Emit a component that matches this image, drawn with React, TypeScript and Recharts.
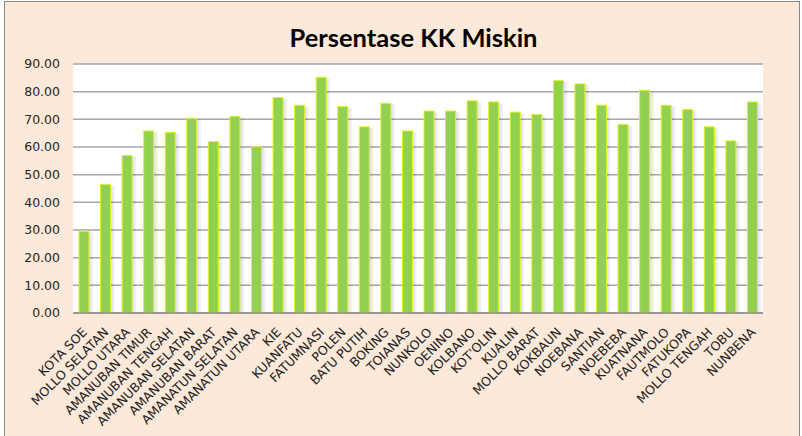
import React from 'react';
import { BarChart, Bar, XAxis, YAxis, CartesianGrid } from 'recharts';

const categories = [
  'KOTA SOE', 'MOLLO SELATAN', 'MOLLO UTARA', 'AMANUBAN TIMUR', 'AMANUBAN TENGAH',
  'AMANUBAN SELATAN', 'AMANUBAN BARAT', 'AMANATUN SELATAN', 'AMANATUN UTARA', 'KIE',
  'KUANFATU', 'FATUMNASI', 'POLEN', 'BATU PUTIH', 'BOKING', 'TOIANAS', 'NUNKOLO',
  'OENINO', 'KOLBANO', "KOT'OLIN", 'KUALIN', 'MOLLO BARAT', 'KOKBAUN', 'NOEBANA',
  'SANTIAN', 'NOEBEBA', 'KUATNANA', 'FAUTMOLO', 'FATUKOPA', 'MOLLO TENGAH', 'TOBU', 'NUNBENA',
];

const values = [
  29.5, 46.5, 56.9, 65.8, 65.3, 70.4, 62.0, 71.1, 60.1, 77.9,
  75.1, 85.2, 74.6, 67.3, 75.8, 65.8, 73.0, 73.0, 76.7, 76.3,
  72.6, 71.8, 84.0, 82.8, 75.1, 68.2, 80.5, 75.1, 73.6, 67.3, 62.2, 76.3,
];

const yTicks = [0, 10, 20, 30, 40, 50, 60, 70, 80, 90];

const data = categories.map((name, i) => ({ name, value: values[i] }));

const XTick = (props: any) => {
  const { x, y, payload } = props;
  return (
    <g transform={`translate(${x + 4},${y + 20})`}>
      <text
        textAnchor="end"
        transform="rotate(-45)"
        fontFamily="DejaVu Sans"
        fontSize={12.5}
        fill="#222"
      >
        {payload.value}
      </text>
    </g>
  );
};

const ShadowBar = (props: any) => {
  const { x, y, width, height } = props;
  if (!height || height <= 0) return null;
  return (
    <g>
      <rect x={x + width} y={y + 1} width={4} height={height - 1} fill="#000" opacity={0.06} />
      <rect x={x + width} y={y + 2} width={2} height={height - 2} fill="#000" opacity={0.05} />
      <rect x={x} y={y} width={width} height={height} fill="#92D050" stroke="#E4F02A" strokeWidth={1} />
    </g>
  );
};

export default function App() {
  return (
    <div style={{ position: 'absolute', left: 0, top: 0, width: 802, height: 436, overflow: 'hidden', background: '#fff' }}>
      <div
        style={{
          position: 'absolute',
          left: 4,
          top: 1,
          width: 796,
          height: 450,
          background: '#FDE9D9',
          border: '1px solid #878787',
          boxSizing: 'border-box',
        }}
      />
      <div
        style={{
          position: 'absolute',
          left: 0,
          top: 22,
          width: 827,
          textAlign: 'center',
          fontFamily: 'Lato',
          fontWeight: 700,
          fontSize: 25.5,
          color: '#000',
          lineHeight: '30px',
        }}
      >
        Persentase KK Miskin
      </div>
      <div style={{ position: 'absolute', left: 0, top: 0 }}>
        <BarChart
          width={802}
          height={436}
          data={data}
          margin={{ top: 64, right: 39, bottom: 23, left: 0 }}
          barSize={10}
        >
          <CartesianGrid
            vertical={false}
            fill="#ffffff"
            stroke="#A6A6A6"
            strokeWidth={1.5}
            horizontalValues={yTicks}
          />
          <XAxis
            dataKey="name"
            interval={0}
            height={100}
            tickLine={false}
            tickSize={0}
            tickMargin={0}
            axisLine={{ stroke: '#8C8C8C', strokeWidth: 1.5 }}
            tick={<XTick />}
          />
          <YAxis
            width={73}
            domain={[0, 90]}
            ticks={yTicks}
            axisLine={false}
            tickLine={false}
            tickSize={0}
            tickMargin={13}
            tickFormatter={(v: number) => v.toFixed(2)}
            tick={{ fontFamily: 'DejaVu Sans', fontSize: 12.5, fill: '#262626' }}
          />
          <Bar
            dataKey="value"
            fill="#92D050"
            stroke="#E4F02A"
            strokeWidth={1}
            shape={<ShadowBar />}
            isAnimationActive={false}
          />
        </BarChart>
      </div>
    </div>
  );
}
